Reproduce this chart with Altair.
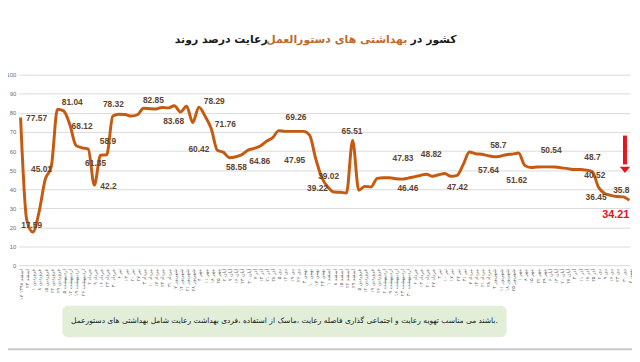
import json
import altair as alt
import pandas as pd

# ---------------- data ----------------
values = [77.57, 24.0, 17.59, 28.0, 45.01, 52.0, 81.9, 81.04, 74.0, 63.0,
          61.7, 61.0, 42.2, 57.8, 58.0, 78.32, 79.3, 79.1, 78.3, 79.0,
          82.4, 82.2, 82.0, 82.85, 82.6, 83.68, 80.5, 83.5, 75.0, 83.0,
          78.29, 71.76, 60.42, 59.3, 56.5, 57.0, 58.1, 60.5, 61.4, 62.6,
          65.1, 67.0, 70.7, 70.3, 70.3, 70.3, 70.3, 68.3, 56.0, 46.0,
          41.0, 38.5, 38.4, 38.0, 65.51, 39.5, 41.5, 41.2, 45.7, 46.0,
          46.0, 45.5, 45.3, 45.8, 46.5, 47.2, 47.9, 46.8, 47.6, 48.2,
          46.8, 47.3, 53.0, 59.5, 58.6, 58.3, 57.6, 57.0, 57.3, 58.1,
          58.4, 59.0, 52.5, 51.4, 51.6, 51.7, 51.7, 51.6, 51.2, 50.8,
          50.3, 50.3, 50.0, 49.1, 41.0, 37.8, 36.8, 36.2, 36.0, 34.21]

dates = [
    "۱۷ اسفند ۱۳۹۸", "۲۴ اسفند",
    "۱ فروردین", "۸ فروردین", "۱۵ فروردین", "۲۲ فروردین", "۲۹ فروردین",
    "۵ اردیبهشت", "۱۲ اردیبهشت", "۱۹ اردیبهشت", "۲۶ اردیبهشت",
    "۲ خرداد", "۹ خرداد", "۱۶ خرداد", "۲۳ خرداد", "۳۰ خرداد",
    "۶ تیر", "۱۳ تیر", "۲۰ تیر", "۲۷ تیر",
    "۳ مرداد", "۱۰ مرداد", "۱۷ مرداد", "۲۴ مرداد", "۳۱ مرداد",
    "۷ شهریور", "۱۴ شهریور", "۲۱ شهریور", "۲۸ شهریور",
    "۴ مهر", "۱۱ مهر", "۱۸ مهر", "۲۵ مهر",
    "۲ آبان", "۹ آبان", "۱۶ آبان", "۲۳ آبان", "۳۰ آبان",
    "۷ آذر", "۱۴ آذر", "۲۱ آذر", "۲۸ آذر",
    "۵ دی", "۱۲ دی", "۱۹ دی", "۲۶ دی",
    "۳ بهمن", "۱۰ بهمن", "۱۷ بهمن", "۲۴ بهمن",
    "۱ اسفند", "۸ اسفند", "۱۵ اسفند", "۲۲ اسفند", "۲۹ اسفند",
    "۵ فروردین", "۱۲ فروردین", "۱۹ فروردین", "۲۶ فروردین",
    "۲ اردیبهشت", "۹ اردیبهشت", "۱۶ اردیبهشت", "۲۳ اردیبهشت", "۳۰ اردیبهشت",
    "۶ خرداد", "۱۳ خرداد", "۲۰ خرداد", "۲۷ خرداد",
    "۳ تیر", "۱۰ تیر", "۱۷ تیر", "۲۴ تیر", "۳۱ تیر",
    "۷ مرداد", "۱۴ مرداد", "۲۱ مرداد", "۲۸ مرداد",
    "۴ شهریور", "۱۱ شهریور", "۱۸ شهریور", "۲۵ شهریور",
    "۱ مهر", "۸ مهر", "۱۵ مهر", "۲۲ مهر", "۲۹ مهر",
    "۶ آبان", "۱۳ آبان", "۲۰ آبان", "۲۷ آبان",
    "۴ آذر", "۱۱ آذر", "۱۸ آذر", "۲۵ آذر",
    "۲ دی", "۹ دی", "۱۶ دی", "۲۳ دی", "۳۰ دی",
    "۷ بهمن",
]

label_text = ["77.57", "17.59", "45.01", "81.04", "68.12", "61.35", "42.2", "58.9",
              "78.32", "82.85", "83.68", "60.42", "78.29", "71.76", "58.58", "64.86",
              "69.26", "47.95", "39.02", "39.22", "65.51", "47.83", "46.46", "48.82",
              "47.42", "57.64", "58.7", "51.62", "50.54", "48.7", "40.52", "36.45", "35.8"]
label_idx = [2.6, 1.8, 3.4, 8.4, 10.0, 12.2, 14.3, 14.2,
             15.1, 21.6, 24.9, 29.0, 31.5, 33.3, 35.1, 38.9,
             44.8, 44.6, 50.1, 48.3, 53.9, 62.2, 63.0, 66.8,
             71.05, 76.1, 77.7, 80.7, 86.3, 93.0, 93.4, 93.6, 97.7]
label_pos = [77.3, 21.2, 50.5, 85.9, 73.0, 53.5, 41.7, 65.2,
             84.5, 86.6, 75.9, 61.2, 86.2, 74.2, 51.4, 54.8,
             77.6, 55.5, 47.1, 40.5, 70.4, 56.1, 40.5, 58.3,
             41.4, 50.0, 63.0, 44.9, 60.4, 56.9, 47.4, 35.9, 39.7]

last_text = ["34.21"]
last_idx = [96.8]
last_pos = [26.7]

title_start = "روند درصد رعایت"
title_mid = "دستورالعمل های بهداشتی"
title_end = "در کشور"
note = "دستورعمل های بهداشتی شامل رعایت بهداشت فردی، استفاده از ماسک، رعایت فاصله گذاری اجتماعی و رعایت تهویه مناسب می باشند."

LRM = "\u200e"


def ltr_words(s):
    # the reference image shows the words in left-to-right order
    return LRM + (LRM + " ").join(s.split(" ")) + LRM


# ---------------- frames ----------------
df = pd.DataFrame({"i": list(range(len(values))), "v": values})
lab = pd.DataFrame({"t": label_text, "i": label_idx, "v": label_pos})
last = pd.DataFrame({"t": last_text, "i": last_idx, "v": last_pos})
arrow = pd.DataFrame({"i": [98.3], "top": [68.1], "bot": [53.0], "head": [50.1]})
one = pd.DataFrame({"a": [0]})

W, H = 619, 193.4
xscale = alt.Scale(domain=[-0.28, 99.12], nice=False, zero=False)
yscale = alt.Scale(domain=[0, 100], nice=False)

label_expr = json.dumps(dates, ensure_ascii=False) + "[datum.value]"

xaxis = alt.Axis(values=list(range(len(values))), labelExpr=label_expr,
                 labelAngle=270, labelFontSize=5, labelColor="#6b6b6b",
                 labelFont="DejaVu Sans", labelOverlap=False, labelFlush=False,
                 labelBound=False, labelPadding=3, ticks=False, domain=False, grid=False)
yaxis = alt.Axis(values=list(range(0, 101, 10)), labelFontSize=6, labelOverlap=False,
                 labelColor="#6b6b6b", labelPadding=3, ticks=False, labelFlush=False,
                 domain=False, gridColor="#d9d9d9", gridWidth=1)


def X(f):
    return alt.X(f, scale=xscale, axis=xaxis, title=None)


def Y(f):
    return alt.Y(f, scale=yscale, axis=yaxis, title=None)


line = alt.Chart(df).mark_line(color="#c55a11", strokeWidth=3, interpolate="monotone").encode(
    x=X("i:Q"), y=Y("v:Q"))

labels = alt.Chart(lab).mark_text(font="Liberation Sans", fontSize=8.5, fontWeight="bold",
                                  color="#5e4430").encode(
    x=X("i:Q"), y=Y("v:Q"), text="t:N")

last_lab = alt.Chart(last).mark_text(font="Liberation Sans", fontSize=11, fontWeight="bold",
                                     color="#e0141e").encode(
    x=X("i:Q"), y=Y("v:Q"), text="t:N")

shaft = alt.Chart(arrow).mark_rule(color="#e8141b", strokeWidth=4).encode(
    x=X("i:Q"), y=Y("top:Q"), y2="bot:Q")
head = alt.Chart(arrow).mark_point(shape="M-1,-0.6L1,-0.6L0,0.6Z", size=110, filled=True,
                                   opacity=1, color="#e8141b").encode(
    x=X("i:Q"), y=Y("head:Q"))

TF = dict(font="DejaVu Sans", fontSize=11, fontWeight="bold", align="center", baseline="middle")
t_start = alt.Chart(one).mark_text(color="#1a1a1a", **TF).encode(
    x=alt.value(205), y=alt.value(-35), text=alt.value(ltr_words(title_start)))
t_mid = alt.Chart(one).mark_text(color="#c06a2c", **TF).encode(
    x=alt.value(322), y=alt.value(-35), text=alt.value(ltr_words(title_mid)))
t_end = alt.Chart(one).mark_text(color="#1a1a1a", **TF).encode(
    x=alt.value(420), y=alt.value(-35), text=alt.value(ltr_words(title_end)))

box = alt.Chart(one).mark_rect(fill="#e2eed8", cornerRadius=6).encode(
    x=alt.value(44), x2=alt.value(494), y=alt.value(234), y2=alt.value(266))
box_text = alt.Chart(one).mark_text(font="DejaVu Sans", fontSize=7.6, color="#1a1a1a",
                                    align="center", baseline="middle").encode(
    x=alt.value(269), y=alt.value(250), text=alt.value(ltr_words(note)))

bottom_rule = alt.Chart(one).mark_rule(color="#c8c8c8", strokeWidth=2).encode(
    x=alt.value(-11), x2=alt.value(621), y=alt.value(278))

chart = alt.layer(line, labels, last_lab, shaft, head, t_start, t_mid, t_end, box, box_text,
                  bottom_rule).properties(
    width=W, height=H,
    autosize=alt.AutoSizeParams(type="none"),
    padding={"left": 11, "top": 65.3, "right": 2, "bottom": 87.3},
    background="white",
).configure_view(stroke=None)

chart.save("out.html", embed_options={"renderer": "svg", "actions": False})
